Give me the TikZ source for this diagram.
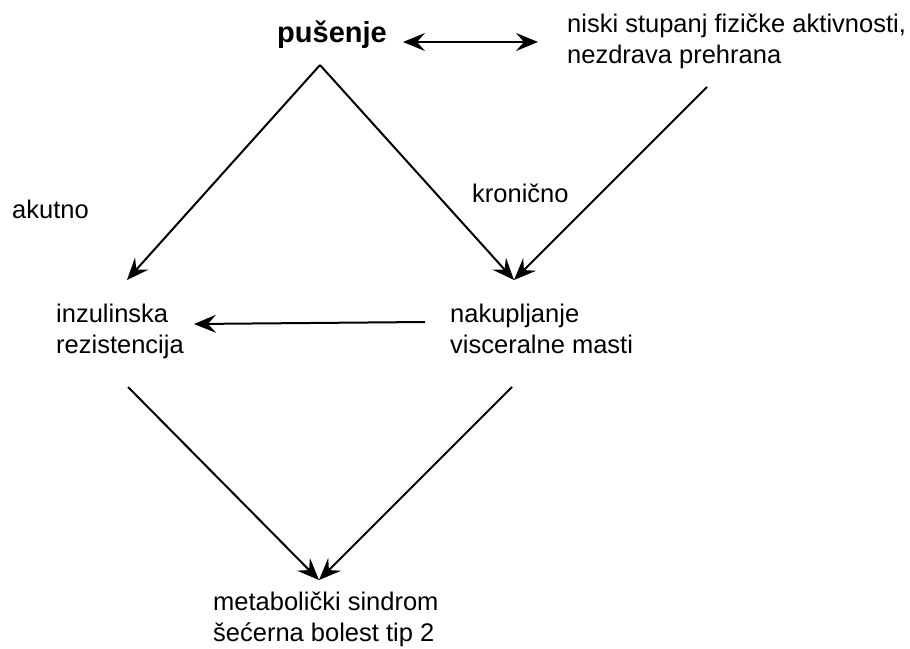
\documentclass[tikz,border=0pt]{standalone}
\usepackage{fontspec}
\setmainfont{Liberation Sans}
\usetikzlibrary{arrows.meta}
\tikzset{
  tip/.tip={Stealth[length=22pt,width=18pt,inset=8pt]},
  lbl/.style={anchor=base west, inner sep=0pt, align=left, font=\fontsize{25.5pt}{31pt}\selectfont},
  conn/.style={line width=2pt, -tip},
  dconn/.style={line width=2pt, tip-tip}
}
\begin{document}
\begin{tikzpicture}[x=1pt,y=-1pt]
\useasboundingbox (0,0) rectangle (910,648);
% texts (anchor = baseline of last line)
\node[lbl, font=\fontsize{29pt}{34pt}\selectfont\bfseries] (pus) at (277,42) {pušenje};
\node[lbl] (niski) at (567,63) {niski stupanj fizičke aktivnosti,\\nezdrava prehrana};
\node[lbl] (akut) at (12,218) {akutno};
\node[lbl] (kron) at (472,202) {kronično};
\node[lbl] (inz) at (56,353) {inzulinska\\rezistencija};
\node[lbl] (nak) at (450,353) {nakupljanje\\visceralne masti};
\node[lbl] (met) at (213,641) {metabolički sindrom\\šećerna bolest tip 2};
% connector points
\coordinate (apex) at (320,65);
\coordinate (nisE) at (707,87);
\coordinate (tipL) at (127,280);
\coordinate (tipR) at (514,280);
\coordinate (hS) at (425,322);
\coordinate (hE) at (194,324);
\coordinate (bL) at (128,387);
\coordinate (bR) at (512,387);
\coordinate (tipB) at (319,580);
\coordinate (dL) at (403,42);
\coordinate (dR) at (538,42);
% connectors
\draw[dconn] (dL) -- (dR);
\draw[conn] (apex) -- (tipL);
\draw[conn] (apex) -- (tipR);
\draw[conn] (nisE) -- (tipR);
\draw[conn] (hS) -- (hE);
\draw[conn] (bL) -- (tipB);
\draw[conn] (bR) -- (tipB);
\end{tikzpicture}
\end{document}
